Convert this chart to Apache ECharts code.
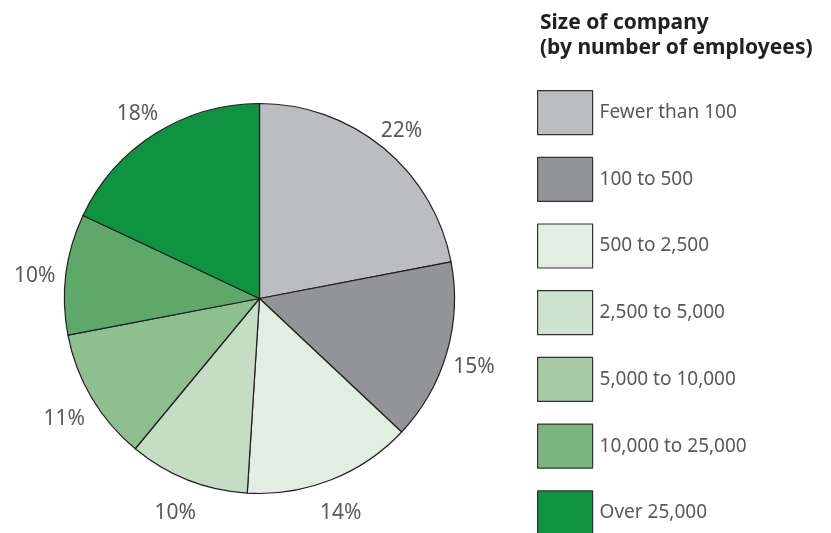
<!DOCTYPE html>
<html>
<head>
<meta charset="utf-8">
<script src="https://cdn.jsdelivr.net/npm/echarts@6/dist/echarts.min.js"></script>
<style>
  html, body { margin: 0; padding: 0; background: #ffffff; }
  #chart { width: 831px; height: 533px; }
</style>
</head>
<body>
<div id="chart"></div>
<script>
// Share of companies by size (number of employees), in percent
const categories = [
  'Fewer than 100', '100 to 500', '500 to 2,500', '2,500 to 5,000',
  '5,000 to 10,000', '10,000 to 25,000', 'Over 25,000'
];
const shares = [22, 15, 14, 10, 11, 10, 18];
const sliceColors = ['#bcbdc1', '#929497', '#e3eee3', '#c5ddc5', '#8ebf8e', '#5ea96a', '#0e9340'];
const legendColors = ['#bcbdc1', '#929497', '#e3eee3', '#d0e3d0', '#a6caa6', '#7ab57f', '#0e9340'];
const legendTitle = 'Size of company\n(by number of employees)';

const FONT = '"Noto Sans", "Open Sans", sans-serif';
const CENTER = [259.5, 298.5];
const LABEL_CENTER = [258, 304];

const pieData = categories.map((name, i) => ({
  name, value: shares[i], itemStyle: { color: sliceColors[i] }
}));
// transparent ring that only carries the percentage labels around the pie
const labelRing = categories.map((name, i) => ({
  name: name + ' ', value: shares[i], itemStyle: { color: 'rgba(0,0,0,0)' }
}));

const chart = echarts.init(document.getElementById('chart'), null, { renderer: 'canvas' });
chart.setOption({
  animation: false,
  backgroundColor: '#ffffff',
  title: {
    text: legendTitle,
    left: 535, top: 6,
    textStyle: { fontFamily: FONT, fontSize: 21, fontWeight: 'bold', color: '#231f20', lineHeight: 25 }
  },
  legend: {
    orient: 'vertical',
    left: 537, top: 90,
    height: 480,
    itemWidth: 55, itemHeight: 44, itemGap: 21.5,
    icon: 'rect',
    selectedMode: false,
    padding: 0,
    data: categories.map((name, i) => ({
      name,
      itemStyle: { color: legendColors[i], borderColor: '#333333', borderWidth: 1.2 }
    })),
    textStyle: { fontFamily: FONT, fontSize: 19, color: '#58595b', padding: [0, 0, 0, 2] }
  },
  series: [
    {
      type: 'pie',
      center: CENTER,
      radius: [0, 195],
      startAngle: 90,
      clockwise: true,
      silent: true,
      itemStyle: { borderColor: '#231f20', borderWidth: 1.2 },
      label: { show: false },
      labelLine: { show: false },
      data: pieData
    },
    {
      type: 'pie',
      center: LABEL_CENTER,
      radius: [198, 246],
      startAngle: 90,
      clockwise: true,
      silent: true,
      legendHoverLink: false,
      label: {
        show: true,
        position: 'inside',
        formatter: p => p.value + '%',
        fontFamily: FONT, fontSize: 21, color: '#58595b'
      },
      labelLine: { show: false },
      data: labelRing
    }
  ]
});
</script>
</body>
</html>
